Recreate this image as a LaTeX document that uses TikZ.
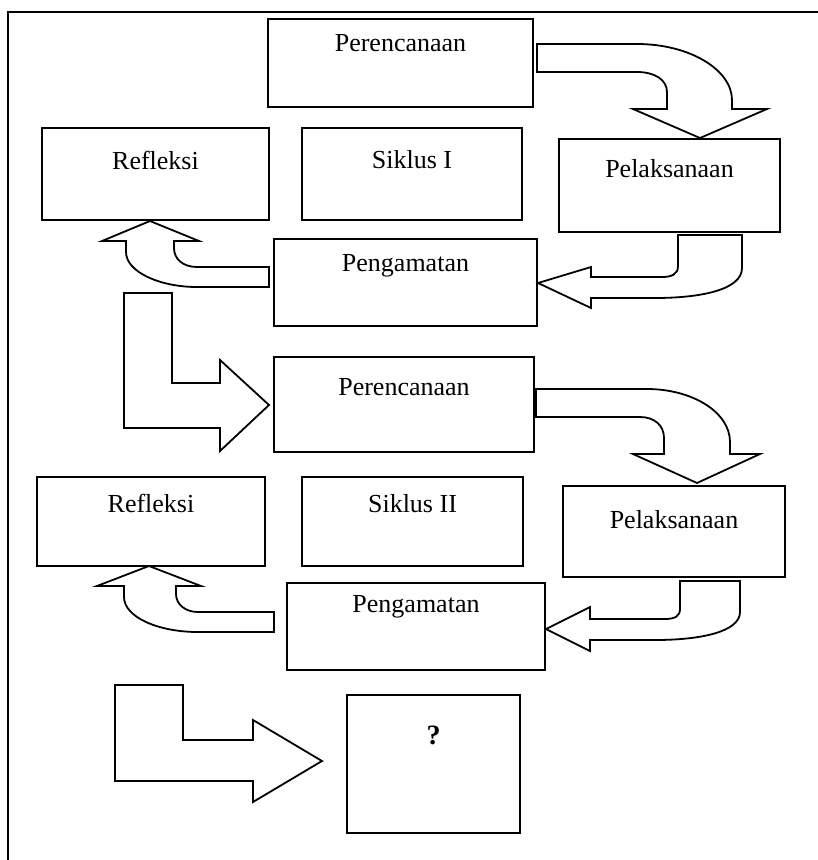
\documentclass[tikz,border=0pt]{standalone}
\usepackage{fontspec}
\setmainfont{Liberation Serif}
\usepackage{tikz}

\begin{document}
\begin{tikzpicture}[x=1pt, y=-1pt,
                stagebox/.style={draw, line width=1.8pt, fill=white, inner sep=0pt}, % Box for each stage
                stagetxt/.style={anchor=center, font=\fontsize{26}{30}\selectfont}, % Text near top of box
                blockarrow/.style={draw, line width=1.8pt, line join=miter, fill=white} % Outline arrows
                ]
                \useasboundingbox (0,0) rectangle (818,860);
                \draw[line width=1.8pt] (818,12) -- (8,12) -- (8,860);
                % Siklus I
                \node[stagebox, minimum width=265, minimum height=88, label={[stagetxt, yshift=-25]north:Perencanaan}] (plan1) at (400.5,63) {};
                \node[stagebox, minimum width=221, minimum height=93, label={[stagetxt, yshift=-31]north:Pelaksanaan}] (act1) at (669.5,185.5) {};
                \node[stagebox, minimum width=227, minimum height=92, label={[stagetxt, yshift=-33]north:Refleksi}] (refl1) at (155.5,174) {};
                \node[stagebox, minimum width=220, minimum height=92, label={[stagetxt, yshift=-33]north:Siklus I}] (cycle1) at (412,174) {};
                \node[stagebox, minimum width=263, minimum height=87, label={[stagetxt, yshift=-28]north:Pengamatan}] (obs1) at (405.5,282.5) {};
                % Siklus II
                \node[stagebox, minimum width=260, minimum height=95, label={[stagetxt, yshift=-31]north:Perencanaan}] (plan2) at (404,404.5) {};
                \node[stagebox, minimum width=222, minimum height=91, label={[stagetxt, yshift=-34]north:Pelaksanaan}] (act2) at (674,531.5) {};
                \node[stagebox, minimum width=228, minimum height=89, label={[stagetxt, yshift=-27]north:Refleksi}] (refl2) at (151,521.5) {};
                \node[stagebox, minimum width=221, minimum height=89, label={[stagetxt, yshift=-27]north:Siklus II}] (cycle2) at (412.5,521.5) {};
                \node[stagebox, minimum width=258, minimum height=87, label={[stagetxt, yshift=-25]north:Pengamatan}] (obs2) at (416,626.5) {};
                \node[stagebox, minimum width=173, minimum height=138, label={[stagetxt, font=\fontsize{28}{32}\selectfont\bfseries, yshift=-41]north:?}] (next) at (433.5,764) {};
                % Arrows of Siklus I
                \draw[blockarrow] (537,44) -- (637,44) .. controls (690,44) and (732,70) .. (732,100) -- (732,109) -- (767,109) -- (700,138) -- (633,109) -- (667,109) -- (667,92) .. controls (667,80) and (655,72) .. (637,72) -- (537,72) -- cycle;
                \draw[blockarrow] (678,235) -- (742,235) -- (742,268) .. controls (742,290) and (700,298) .. (655,298) -- (591,298) -- (591,308) -- (538,283) -- (591,267) -- (591,277) -- (662,277) .. controls (672,277) and (678,274) .. (678,266) -- cycle;
                \draw[blockarrow] (269,267) -- (197,267) .. controls (183,267) and (174,259) .. (174,248) -- (174,241) -- (199,241) -- (150,221) -- (102,241) -- (126,241) -- (126,252) .. controls (126,272) and (160,287) .. (197,287) -- (269,287) -- cycle;
                \draw[blockarrow] (124,293) -- (172,293) -- (172,383) -- (220,383) -- (220,360) -- (269,405) -- (220,451) -- (220,428) -- (124,428) -- cycle;
                % Arrows of Siklus II
                \draw[blockarrow] (536,389) -- (647,389) .. controls (692,389) and (730,412) .. (730,442) -- (730,454) -- (760,454) -- (697,483) -- (633,454) -- (664,454) -- (664,438) .. controls (664,425) and (654,417) .. (640,417) -- (536,417) -- cycle;
                \draw[blockarrow] (680,581) -- (740,581) -- (740,612) .. controls (740,632) and (700,640) .. (655,640) -- (590,640) -- (590,651) -- (546,629) -- (590,607) -- (590,619) -- (665,619) .. controls (675,619) and (680,616) .. (680,609) -- cycle;
                \draw[blockarrow] (274,612) -- (198,612) .. controls (185,612) and (176,604) .. (176,594) -- (176,586) -- (201,586) -- (149,566) -- (97,586) -- (124,586) -- (124,597) .. controls (124,617) and (158,632) .. (198,632) -- (274,632) -- cycle;
                \draw[blockarrow] (115,685) -- (183,685) -- (183,740) -- (253,740) -- (253,720) -- (322,761) -- (253,802) -- (253,781) -- (115,781) -- cycle;
            \end{tikzpicture}
\end{document}
